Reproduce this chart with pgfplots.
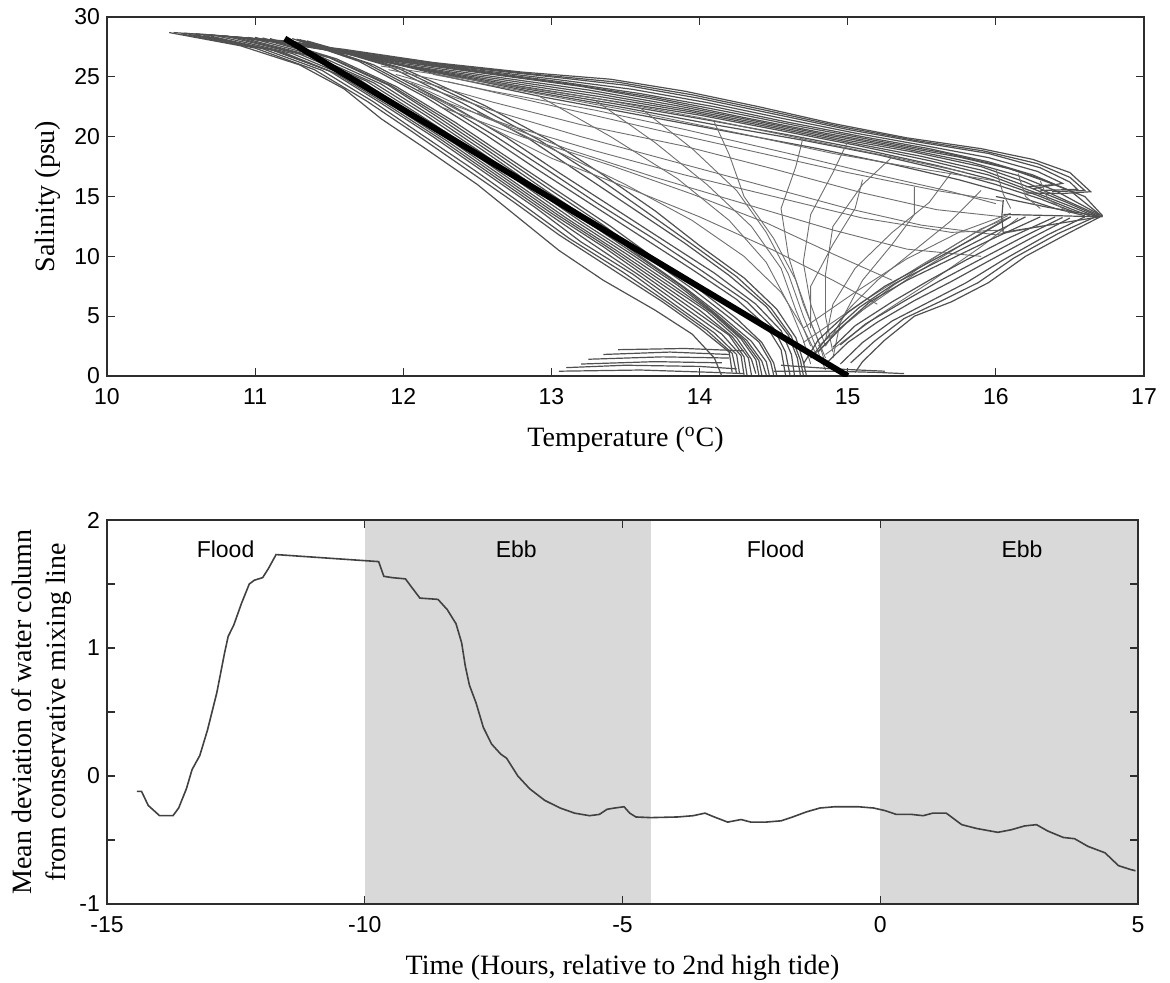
\documentclass[border=0pt]{standalone}
\usepackage{fontspec}
\setmainfont{Liberation Serif}
\setsansfont{Liberation Sans}
\usepackage{pgfplots}
\pgfplotsset{compat=1.18}
\definecolor{profd}{RGB}{80,80,80}
\definecolor{profl}{RGB}{110,110,110}
\definecolor{shade}{RGB}{217,217,217}
\definecolor{curve}{RGB}{65,65,65}
\definecolor{frame}{RGB}{45,45,45}

\pgfplotsset{
  every axis/.append style={
    scale only axis,
    axis line style={line width=0.8pt, frame},
    tick style={line width=0.6pt, frame},
    major tick length=4pt,
    tick label style={font=\fontsize{11.5}{13}\sffamily},
    xticklabel style={yshift=-2.6pt},
    label style={font=\fontsize{14}{17}\selectfont},
  },
  pd/.style={color=profd, line width=0.6pt},
  pl/.style={color=profl, line width=0.45pt},
}

\begin{document}
\begin{tikzpicture}
\path[use as bounding box] (-53.5pt,-39pt) rectangle (531.5pt,452pt);

% ---------- T-S diagram ----------
\begin{axis}[
  at={(0pt,264pt)}, anchor=south west,
  width=518.5pt, height=179.5pt,
  xmin=10, xmax=17, ymin=0, ymax=30,
  xtick={10,11,...,17}, xticklabels={10,11,12,13,14,15,16,17},
  ytick={0,5,...,30}, yticklabels={0,5,10,15,20,25,30},
  xlabel={Temperature (\textsuperscript{o}C)},
  ylabel={Salinity (psu)},
  xlabel style={at={(axis description cs:0.5,-0.178)}, anchor=center},
  ylabel style={at={(axis description cs:-0.057,0.5)}, anchor=center},
]
% left band
\addplot[pd] coordinates {(10.42,28.7) (10.9,27.6) (11.3,26.0) (11.6,24.0) (11.85,21.5) (12.15,19.0) (12.5,16.0) (12.8,13.0) (13.05,10.5) (13.35,8.0) (13.7,5.5) (13.95,3.5) (14.1,1.5) (14.15,0)};
\addplot[pd] coordinates {(10.5,28.6) (11.0,27.4) (11.4,25.6) (11.75,23.0) (12.05,20.5) (12.4,17.5) (12.75,14.5) (13.05,11.8) (13.4,9.0) (13.75,6.2) (14.0,4.0) (14.2,2.0) (14.22,0.3)};
\addplot[pd] coordinates {(10.55,28.55) (11.05,27.35) (11.45,25.55) (11.8,22.9) (12.12,20.2) (12.48,17.2) (12.82,14.2) (13.12,11.5) (13.48,8.7) (13.8,6.0) (14.05,3.8) (14.22,1.9) (14.25,0.2)};
\addplot[pd] coordinates {(10.6,28.5) (11.1,27.3) (11.5,25.5) (11.85,22.8) (12.2,20.0) (12.55,17.0) (12.9,14.0) (13.2,11.2) (13.55,8.5) (13.85,5.8) (14.1,3.6) (14.25,1.8) (14.27,0.2)};
\addplot[pd] coordinates {(10.65,28.45) (11.15,27.15) (11.55,25.25) (11.9,22.6) (12.25,19.8) (12.6,16.8) (12.95,13.8) (13.28,11.0) (13.6,8.35) (13.9,5.7) (14.15,3.5) (14.28,1.7) (14.3,0.1)};
\addplot[pd] coordinates {(10.7,28.4) (11.2,27.0) (11.6,25.0) (11.95,22.4) (12.3,19.6) (12.65,16.6) (13.0,13.6) (13.35,10.8) (13.65,8.2) (13.95,5.6) (14.2,3.4) (14.3,1.6) (14.32,0.1)};
\addplot[pd] coordinates {(10.75,28.4) (11.25,26.95) (11.65,24.9) (12.0,22.2) (12.35,19.4) (12.7,16.4) (13.05,13.4) (13.4,10.6) (13.7,8.05) (14.0,5.5) (14.22,3.3) (14.33,1.5) (14.35,0.1)};
\addplot[pd] coordinates {(10.8,28.4) (11.3,26.9) (11.7,24.8) (12.05,22.0) (12.4,19.2) (12.75,16.2) (13.1,13.2) (13.45,10.4) (13.75,7.9) (14.05,5.4) (14.25,3.2) (14.35,1.4) (14.38,0.2)};
\addplot[pd] coordinates {(10.85,28.35) (11.35,26.8) (11.75,24.65) (12.1,21.9) (12.45,19.05) (12.8,16.05) (13.15,13.05) (13.5,10.25) (13.8,7.75) (14.08,5.3) (14.28,3.1) (14.38,1.35) (14.4,0.1)};
\addplot[pd] coordinates {(10.9,28.3) (11.4,26.7) (11.8,24.5) (12.15,21.8) (12.5,18.9) (12.85,15.9) (13.2,12.9) (13.55,10.1) (13.85,7.6) (14.1,5.2) (14.3,3.0) (14.4,1.3) (14.42,0.1)};
\addplot[pd] coordinates {(10.95,28.3) (11.45,26.65) (11.85,24.4) (12.2,21.65) (12.55,18.75) (12.9,15.75) (13.25,12.8) (13.58,10.05) (13.88,7.5) (14.12,5.1) (14.32,2.95) (14.42,1.25) (14.45,0.1)};
\addplot[pd] coordinates {(11.0,28.3) (11.5,26.6) (11.9,24.3) (12.25,21.5) (12.6,18.6) (12.95,15.6) (13.3,12.7) (13.6,10.0) (13.9,7.4) (14.15,5.0) (14.35,2.9) (14.45,1.2) (14.47,0.1)};
\addplot[pd] coordinates {(11.05,28.25) (11.52,26.55) (11.92,24.25) (12.3,21.35) (12.65,18.45) (13.0,15.5) (13.35,12.6) (13.65,9.9) (13.95,7.3) (14.2,4.9) (14.4,2.85) (14.48,1.15) (14.5,0.1)};
\addplot[pd] coordinates {(11.1,28.2) (11.55,26.5) (11.95,24.2) (12.35,21.2) (12.7,18.3) (13.05,15.4) (13.4,12.5) (13.7,9.8) (14.0,7.2) (14.25,4.8) (14.42,2.8) (14.5,1.1) (14.52,0.1)};
% band right of mixing line
\addplot[pd] coordinates {(11.25,28.2) (11.7,26.3) (12.15,23.3) (12.55,20.2) (12.9,17.3) (13.25,14.5) (13.6,11.7) (13.95,8.9) (14.25,6.4) (14.45,4.2) (14.55,2.2) (14.58,0.1)};
\addplot[pd] coordinates {(11.28,28.15) (11.75,26.15) (12.22,23.05) (12.62,20.05) (12.98,17.15) (13.32,14.35) (13.68,11.55) (14.02,8.75) (14.32,6.2) (14.5,4.0) (14.58,2.0) (14.61,0.1)};
\addplot[pd] coordinates {(11.3,28.1) (11.8,26.0) (12.3,22.8) (12.7,19.9) (13.05,17.0) (13.4,14.2) (13.75,11.4) (14.1,8.6) (14.38,6.0) (14.55,3.8) (14.62,1.8) (14.64,0.1)};
\addplot[pd] coordinates {(11.3,28.1) (11.9,25.9) (12.4,22.8) (12.85,19.8) (13.2,16.9) (13.55,14.0) (13.9,11.1) (14.2,8.4) (14.45,5.8) (14.6,3.4) (14.66,1.5) (14.68,0.1)};
\addplot[pd] coordinates {(11.32,28.05) (11.95,25.8) (12.48,22.7) (12.92,19.7) (13.28,16.85) (13.62,13.9) (13.95,11.0) (14.25,8.3) (14.48,5.7) (14.62,3.3) (14.68,1.35) (14.7,0.1)};
\addplot[pd] coordinates {(11.35,28.0) (12.0,25.7) (12.55,22.6) (13.0,19.6) (13.35,16.8) (13.7,13.8) (14.0,10.9) (14.3,8.2) (14.52,5.6) (14.65,3.2) (14.7,1.2) (14.72,0.1)};
% upper band
\addplot[pd] coordinates {(10.45,28.7) (11.0,28.2) (11.6,27.3) (12.2,26.2) (12.8,25.4) (13.4,24.8) (13.9,23.8) (14.4,22.5) (14.9,21.1) (15.4,19.9) (15.9,19.0) (16.25,18.1) (16.5,17.0) (16.64,15.4) (16.45,15.25) (16.2,15.3)};
\addplot[pd] coordinates {(10.52,28.65) (11.1,28.1) (11.7,27.05) (12.3,26.0) (12.9,25.2) (13.45,24.55) (13.95,23.5) (14.45,22.2) (14.95,20.85) (15.45,19.7) (15.92,18.8) (16.28,17.75) (16.5,16.6) (16.6,15.5) (16.38,15.4)};
\addplot[pd] coordinates {(10.6,28.6) (11.2,28.0) (11.8,26.8) (12.4,25.8) (13.0,25.0) (13.5,24.3) (14.0,23.2) (14.5,21.9) (15.0,20.6) (15.5,19.5) (15.95,18.6) (16.3,17.4) (16.5,16.2) (16.55,15.6) (16.3,15.5)};
\addplot[pd] coordinates {(10.65,28.55) (11.25,27.9) (11.85,26.65) (12.45,25.65) (13.02,24.8) (13.55,23.95) (14.05,22.85) (14.55,21.55) (15.05,20.3) (15.52,19.25) (15.95,18.25) (16.28,17.1) (16.45,16.1) (16.25,15.65)};
\addplot[pd] coordinates {(10.7,28.5) (11.3,27.8) (11.9,26.5) (12.5,25.5) (13.05,24.6) (13.6,23.6) (14.1,22.5) (14.6,21.2) (15.1,20.0) (15.55,19.0) (15.95,17.9) (16.25,16.8) (16.4,16.0) (16.2,15.8)};
\addplot[pd] coordinates {(10.75,28.45) (11.32,27.7) (11.92,26.4) (12.55,25.35) (13.12,24.4) (13.68,23.3) (14.2,22.05) (14.7,20.8) (15.2,19.65) (15.65,18.65) (16.02,17.6) (16.3,16.5) (16.5,15.5) (16.7,13.5)};
\addplot[pd] coordinates {(10.8,28.4) (11.35,27.6) (11.95,26.3) (12.6,25.2) (13.2,24.2) (13.75,23.0) (14.3,21.6) (14.8,20.4) (15.3,19.3) (15.75,18.3) (16.1,17.3) (16.35,16.2) (16.6,15.0) (16.72,13.4)};
\addplot[pd] coordinates {(10.85,28.35) (11.4,27.5) (11.98,26.15) (12.62,25.0) (13.25,23.9) (13.82,22.65) (14.38,21.3) (14.88,20.1) (15.38,19.0) (15.82,17.9) (16.15,16.75) (16.4,15.5) (16.72,13.35)};
\addplot[pd] coordinates {(10.9,28.3) (11.45,27.4) (12.0,26.0) (12.65,24.8) (13.3,23.6) (13.9,22.3) (14.45,21.0) (14.95,19.8) (15.45,18.7) (15.9,17.5) (16.2,16.2) (16.45,14.8) (16.7,13.4)};
\addplot[pd] coordinates {(10.95,28.25) (11.48,27.3) (12.05,25.85) (12.7,24.55) (13.35,23.3) (13.95,22.05) (14.5,20.75) (15.0,19.55) (15.5,18.35) (15.92,17.15) (16.22,15.8) (16.48,14.5) (16.69,13.35)};
\addplot[pd] coordinates {(11.0,28.2) (11.5,27.2) (12.1,25.7) (12.75,24.3) (13.4,23.0) (14.0,21.8) (14.55,20.5) (15.05,19.3) (15.55,18.0) (15.95,16.8) (16.25,15.4) (16.5,14.2) (16.68,13.3)};
\addplot[pd] coordinates {(11.05,28.15) (11.55,27.1) (12.15,25.55) (12.8,24.05) (13.45,22.7) (14.05,21.4) (14.62,20.1) (15.12,18.9) (15.6,17.6) (15.98,16.4) (16.28,15.1) (16.52,13.9) (16.64,13.35)};
\addplot[pd] coordinates {(11.1,28.1) (11.6,27.0) (12.2,25.4) (12.85,23.8) (13.5,22.4) (14.1,21.0) (14.7,19.7) (15.2,18.5) (15.65,17.2) (16.0,16.0) (16.3,14.8) (16.55,13.6)};
\addplot[pd] coordinates {(11.2,28.1) (11.7,26.8) (12.3,25.0) (12.95,23.3) (13.6,21.8) (14.2,20.4) (14.8,19.0) (15.3,17.7) (15.75,16.4) (16.1,15.2) (16.4,14.0) (16.6,13.4)};
% mesh of interior profiles
\addplot[pl] coordinates {(11.85,25.9) (12.6,24.5) (13.3,23.2) (14.0,21.6) (14.7,19.8) (15.3,18.3) (15.8,17.0)};
\addplot[pl] coordinates {(11.9,25.6) (12.6,23.8) (13.3,22.2) (13.9,20.6) (14.6,18.6) (15.2,16.8) (15.7,15.4) (16.0,14.4)};
\addplot[pl] coordinates {(12.2,25.2) (12.9,23.6) (13.6,22.0) (14.3,20.2) (14.9,18.6) (15.5,17.3) (16.0,16.3)};
\addplot[pl] coordinates {(11.95,25.2) (12.6,22.9) (13.2,21.0) (13.9,19.2) (14.5,17.3) (15.1,15.3) (15.6,13.9) (16.05,13.3)};
\addplot[pl] coordinates {(12.3,24.6) (13.0,22.6) (13.7,20.6) (14.35,18.8) (15.0,17.0) (15.6,15.5) (16.05,14.6)};
\addplot[pl] coordinates {(12.0,24.8) (12.6,22.2) (13.2,20.0) (13.8,18.0) (14.4,16.0) (15.0,14.0) (15.5,12.6) (16.0,11.8) (16.3,12.5)};
\addplot[pl] coordinates {(12.15,23.5) (12.7,21.0) (13.3,18.8) (13.9,16.8) (14.5,15.0) (15.1,13.2) (15.7,12.0) (16.05,12.2)};
\addplot[pl] coordinates {(12.05,24.5) (12.55,21.6) (13.1,19.0) (13.7,16.6) (14.3,14.4) (14.9,12.2) (15.4,10.6) (15.9,10.0)};
\addplot[pl] coordinates {(12.25,22.5) (12.8,20.0) (13.4,17.6) (13.95,15.2) (14.45,12.8) (14.9,10.2) (15.3,8.0)};
\addplot[pl] coordinates {(12.1,24.0) (12.55,21.0) (13.0,18.2) (13.5,15.8) (14.0,13.3) (14.5,10.5) (14.9,8.0) (15.2,6.0)};
\addplot[pl] coordinates {(12.5,22.0) (13.0,19.0) (13.5,16.0) (13.95,13.0) (14.3,10.0) (14.55,7.0) (14.7,4.0) (14.8,1.5)};
\addplot[pl] coordinates {(12.9,23.5) (13.4,20.0) (13.85,16.5) (14.2,13.0) (14.45,9.5) (14.6,6.0) (14.7,3.0) (14.75,1.0)};
\addplot[pl] coordinates {(13.3,23.0) (13.7,19.5) (14.05,16.0) (14.35,12.5) (14.55,9.0) (14.65,5.5) (14.75,2.5)};
\addplot[pl] coordinates {(13.6,22.4) (13.95,19.0) (14.25,15.5) (14.45,12.0) (14.6,8.5) (14.7,5.0) (14.8,2.0) (14.85,0.5)};
\addplot[pl] coordinates {(14.1,21.2) (14.2,18.5) (14.3,15.0) (14.5,11.5) (14.65,8.0) (14.75,4.5) (14.85,1.5)};
\addplot[pl] coordinates {(14.7,20.0) (14.65,17.5) (14.55,14.0) (14.6,10.0) (14.7,6.0) (14.8,3.0) (14.85,1.0)};
\addplot[pl] coordinates {(15.0,19.6) (14.9,17.0) (14.75,13.5) (14.7,9.5) (14.75,6.0) (14.85,2.5)};
\addplot[pl] coordinates {(15.3,18.3) (15.1,16.0) (14.9,12.5) (14.85,8.5) (14.85,5.0) (14.9,2.0)};
\addplot[pl] coordinates {(15.1,16.4) (15.05,14.0) (14.9,11.0) (14.75,7.5) (14.75,4.0)};
\addplot[pl] coordinates {(15.45,15.8) (15.45,13.5) (15.3,11.0) (15.1,8.0) (14.95,4.5) (14.9,1.5)};
\addplot[pl] coordinates {(15.7,17.0) (15.55,14.5) (15.3,12.0) (15.05,9.0) (14.9,6.0) (14.85,3.0)};
\addplot[pl] coordinates {(15.9,15.5) (15.7,13.0) (15.45,10.5) (15.2,8.0) (15.0,5.5) (14.85,2.5)};
\addplot[pl] coordinates {(14.75,1.5) (15.0,4.5) (15.3,7.5) (15.6,10.0) (15.9,12.3) (16.1,13.3)};
\addplot[pl] coordinates {(14.85,1.8) (15.2,5.0) (15.55,7.8) (15.9,10.8) (16.15,13.2)};
\addplot[pl] coordinates {(14.8,2.5) (15.1,5.5) (15.45,8.5) (15.8,11.2) (16.05,13.0)};
\addplot[pl] coordinates {(14.7,2.8) (15.1,6.2) (15.5,9.3) (15.85,11.9) (16.08,13.4)};
\addplot[pl] coordinates {(14.7,4.0) (15.05,7.0) (15.4,9.8) (15.75,12.0) (16.1,13.6)};
% right lower band
\addplot[pd] coordinates {(16.72,13.4) (16.5,12.0) (16.2,10.0) (15.95,7.8) (15.7,6.2) (15.45,5.0) (15.25,3.0) (15.1,1.2) (15.05,0.3)};
\addplot[pd] coordinates {(16.68,13.35) (16.42,11.9) (16.12,9.85) (15.88,7.8) (15.62,6.2) (15.38,4.8) (15.18,2.9) (15.02,1.1)};
\addplot[pd] coordinates {(16.6,13.3) (16.35,11.8) (16.05,9.7) (15.8,7.8) (15.55,6.2) (15.3,4.6) (15.1,2.8) (14.95,1.0)};
\addplot[pd] coordinates {(16.5,13.2) (16.25,11.6) (15.95,9.6) (15.7,7.9) (15.45,6.3) (15.2,4.5) (15.0,2.8) (14.85,1.0)};
\addplot[pd] coordinates {(16.45,13.25) (16.18,11.6) (15.88,9.65) (15.62,7.95) (15.38,6.25) (15.12,4.35) (14.95,2.6)};
\addplot[pd] coordinates {(16.4,13.3) (16.1,11.6) (15.8,9.7) (15.55,8.0) (15.3,6.2) (15.05,4.2) (14.9,2.4)};
\addplot[pd] coordinates {(16.3,13.3) (16.0,11.6) (15.7,9.8) (15.4,8.0) (15.15,6.2) (14.95,4.0) (14.8,2.0)};
\addplot[pd] coordinates {(16.2,13.3) (15.92,11.55) (15.62,9.65) (15.32,7.75) (15.08,5.75) (14.88,3.5) (14.75,1.5)};
\addplot[pd] coordinates {(16.1,13.3) (15.85,11.5) (15.55,9.5) (15.25,7.5) (15.0,5.3) (14.8,3.0) (14.7,1.0)};
% tip region
\addplot[pd] coordinates {(16.0,15.0) (16.35,14.1) (16.72,13.3)};
\addplot[pd] coordinates {(16.05,13.5) (16.4,13.4) (16.7,13.3)};
\addplot[pd] coordinates {(16.05,12.0) (16.35,12.6) (16.7,13.3)};
\addplot[pd] coordinates {(16.05,14.7) (16.04,13.3) (16.05,11.9)};
\addplot[pl] coordinates {(16.0,17.3) (16.05,15.2) (16.1,14.0)};
\addplot[pl] coordinates {(16.15,16.9) (16.2,15.0) (16.3,14.0)};
\addplot[pl] coordinates {(16.3,16.3) (16.35,14.8) (16.5,13.6)};
% near-surface values
\addplot[pd] coordinates {(13.05,0.4) (13.6,0.5) (14.1,0.3) (14.3,0.2)};
\addplot[pd] coordinates {(13.1,0.7) (13.5,0.9) (14.0,0.8) (14.25,0.6)};
\addplot[pd] coordinates {(13.2,1.0) (13.7,1.2) (14.15,1.1)};
\addplot[pd] coordinates {(13.25,1.4) (13.75,1.6) (14.2,1.5)};
\addplot[pd] coordinates {(13.35,1.8) (13.8,2.0) (14.2,1.8)};
\addplot[pd] coordinates {(13.45,2.2) (13.9,2.3) (14.3,2.1)};
\addplot[pd] coordinates {(14.5,0.4) (14.9,0.4) (15.2,0.3) (15.38,0.2)};
\addplot[pd] coordinates {(14.55,0.9) (14.9,0.6) (15.25,0.4)};
% conservative mixing line
\addplot[black, line width=3pt] coordinates {(11.2,28.2) (15.0,0)};
\end{axis}

% ---------- deviation time series ----------
\begin{axis}[
  at={(0pt,0pt)}, anchor=south west,
  width=515.5pt, height=192pt,
  xmin=-15, xmax=5, ymin=-1, ymax=2,
  xtick={-15,-10,-5,0,5}, xticklabels={-15,-10,-5,0,5},
  ytick={-1,-0.5,0,0.5,1,1.5,2}, yticklabels={-1,,0,,1,,2},
  xlabel={Time (Hours, relative to 2nd high tide)},
  ylabel={Mean deviation of water column\\from conservative mixing line},
  xlabel style={at={(axis description cs:0.5,-0.165)}, anchor=center},
  ylabel style={at={(axis description cs:-0.063,0.5)}, anchor=center, align=center},
  axis on top,
]
\addplot[fill=shade, draw=none] coordinates {(-10,-1) (-10,2) (-4.45,2) (-4.45,-1)};
\addplot[fill=shade, draw=none] coordinates {(0,-1) (0,2) (5,2) (5,-1)};
\addplot[curve, line width=0.8pt] coordinates {
(-14.42,-0.12) (-14.33,-0.12) (-14.20,-0.23) (-13.98,-0.31) (-13.72,-0.31) (-13.61,-0.25)
(-13.46,-0.10) (-13.35,0.05) (-13.20,0.16) (-13.05,0.36) (-12.87,0.65) (-12.72,0.96)
(-12.65,1.09) (-12.54,1.18) (-12.39,1.35) (-12.24,1.50) (-12.14,1.53) (-11.98,1.55)
(-11.87,1.62) (-11.72,1.73) (-9.73,1.675) (-9.63,1.56) (-9.47,1.55) (-9.21,1.54)
(-9.10,1.48) (-8.93,1.39) (-8.58,1.38) (-8.40,1.30) (-8.23,1.19) (-8.12,1.04)
(-8.05,0.86) (-7.97,0.71) (-7.84,0.57) (-7.70,0.38) (-7.54,0.25) (-7.36,0.17)
(-7.25,0.14) (-7.03,0.00) (-6.80,-0.10) (-6.51,-0.19) (-6.21,-0.25) (-5.93,-0.29)
(-5.64,-0.31) (-5.45,-0.30) (-5.30,-0.26) (-5.15,-0.25) (-4.97,-0.24) (-4.86,-0.29)
(-4.74,-0.32) (-4.45,-0.325) (-3.93,-0.32) (-3.63,-0.31) (-3.40,-0.29) (-3.22,-0.32)
(-2.96,-0.36) (-2.70,-0.34) (-2.51,-0.36) (-2.22,-0.36) (-1.92,-0.35) (-1.70,-0.32)
(-1.43,-0.28) (-1.17,-0.25) (-0.88,-0.24) (-0.43,-0.24) (-0.13,-0.25) (0.09,-0.27)
(0.31,-0.30) (0.61,-0.30) (0.83,-0.31) (1.02,-0.29) (1.28,-0.29) (1.58,-0.38)
(1.87,-0.41) (2.28,-0.44) (2.54,-0.42) (2.80,-0.39) (3.03,-0.38) (3.25,-0.43)
(3.55,-0.48) (3.77,-0.49) (4.03,-0.55) (4.36,-0.60) (4.62,-0.70) (4.85,-0.73)
(4.95,-0.74)};
\node[font=\fontsize{11.5}{13}\sffamily] at (axis cs:-12.7,1.77) {Flood};
\node[font=\fontsize{11.5}{13}\sffamily] at (axis cs:-7.06,1.77) {Ebb};
\node[font=\fontsize{11.5}{13}\sffamily] at (axis cs:-2.03,1.77) {Flood};
\node[font=\fontsize{11.5}{13}\sffamily] at (axis cs:2.75,1.77) {Ebb};
\end{axis}
\end{tikzpicture}
\end{document}
